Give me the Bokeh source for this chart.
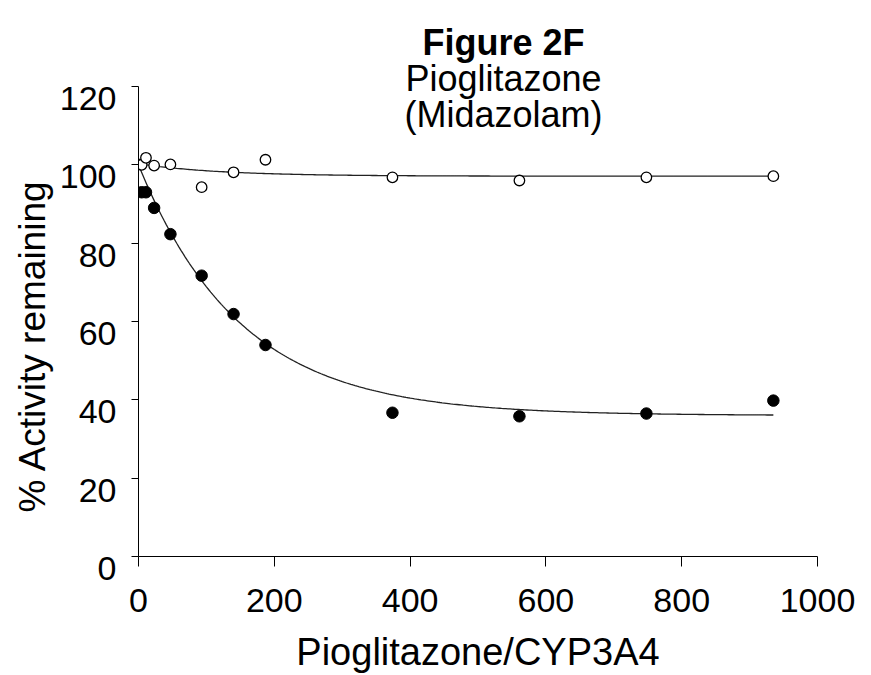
import numpy as np
from bokeh.plotting import figure
from bokeh.models import Range1d, FixedTicker, Title
from bokeh.core.properties import value
from bokeh.embed import file_html
from bokeh.resources import INLINE

# Pioglitazone/CYP3A4 ratio for each incubation
ratio_open = [0, 4.7, 11, 23, 47, 93, 140, 187, 374, 561, 748, 935]
ratio_filled = [4.7, 11, 23, 47, 93, 140, 187, 374, 561, 748, 935]

# % activity remaining: open = control, filled = with pioglitazone pre-incubation
activity_open = [100.1, 100.0, 101.8, 99.8, 100.1, 94.3, 98.1, 101.3, 96.8, 96.0, 96.8, 97.1]
activity_filled = [93.0, 93.0, 89.0, 82.3, 71.7, 61.9, 54.0, 36.7, 35.8, 36.5, 39.8]

# single-exponential fits: plateau + amplitude * exp(-ratio / k)
fit_open = dict(plateau=97.1, amplitude=3.2, k=120.0)
fit_filled = dict(plateau=36.0, amplitude=64.0, k=150.0)
fit_end = 935

x_ticks = [0, 200, 400, 600, 800, 1000]
y_ticks = [0, 20, 40, 60, 80, 100, 120]
title_lines = ["Figure 2F", "Pioglitazone", "(Midazolam)"]

FONT = "Liberation Sans"
W, H = 871, 675
LEFT, RIGHT, BOTTOM = 138, 54, 119
AXIS_TOP_PX = 86          # where the 120 tick sits
Y_MAX = 120

# the frame runs to the top of the canvas so the title block can sit in it;
# the y axis line itself is bounded to 0..120
plot_h = H - BOTTOM
y_end = Y_MAX * plot_h / (plot_h - AXIS_TOP_PX)

p = figure(width=W, height=H, output_backend="svg", toolbar_location=None,
           x_range=Range1d(0, 1000), y_range=Range1d(0, y_end),
           min_border_left=LEFT, min_border_right=RIGHT,
           min_border_top=0, min_border_bottom=BOTTOM)
p.outline_line_color = None
p.grid.visible = False
p.background_fill_color = "white"
p.border_fill_color = "white"

for ax in (p.xaxis[0], p.yaxis[0]):
    ax.axis_line_color = "black"
    ax.axis_line_width = 1
    ax.major_tick_line_color = "black"
    ax.major_tick_in = 0
    ax.minor_tick_line_color = None
    ax.major_label_text_font = FONT
    ax.major_label_text_font_size = "34px"
    ax.major_label_text_color = "black"

p.xaxis.ticker = FixedTicker(ticks=x_ticks)
p.xaxis.major_tick_out = 10
p.xaxis.major_label_standoff = 22
p.xaxis.axis_label = "Pioglitazone/CYP3A4"
p.xaxis.axis_label_text_font = FONT
p.xaxis.axis_label_text_font_size = "38px"
p.xaxis.axis_label_text_font_style = "normal"
p.xaxis.axis_label_text_color = "black"
p.xaxis.axis_label_standoff = 16

p.yaxis.ticker = FixedTicker(ticks=y_ticks)
p.yaxis.bounds = (0, Y_MAX)
p.yaxis.major_tick_out = 7
p.yaxis.major_label_standoff = 15
# tick labels sit a little below their ticks
p.yaxis.major_label_overrides = {t: "\n" + str(t) for t in y_ticks}
p.yaxis.major_label_text_line_height = 0.6

# y axis title, placed from the bottom of the frame upward
ytitle = Title(text="% Activity remaining", align="left", offset=44, standoff=8,
               text_font=FONT, text_font_size="37px", text_font_style="normal",
               text_color="black")
p.add_layout(ytitle, "left")

# fitted curves
xs = np.linspace(0, fit_end, 300)
for fit in (fit_open, fit_filled):
    ys = fit["plateau"] + fit["amplitude"] * np.exp(-xs / fit["k"])
    p.line(xs, ys, line_color="#222222", line_width=1.3)

p.scatter(ratio_open, activity_open, size=10.5, fill_color="white",
          line_color="black", line_width=1.3)
p.scatter(ratio_filled, activity_filled, size=11.5, fill_color="black",
          line_color="black", line_width=1)

# pixel -> data helpers for the title block
def dx(px):
    return (px - LEFT) * 1000 / (W - LEFT - RIGHT)

def dy(py):
    return (plot_h - py) * Y_MAX / (plot_h - AXIS_TOP_PX)

baselines = [42, 78, 114]
styles = ["bold", "normal", "normal"]
for txt, style, base in zip(title_lines, styles, baselines):
    p.text(x=[dx(503)], y=[dy(base)], text=[txt], text_font=value(FONT),
           text_font_size="36px", text_font_style=style, text_align="center",
           text_baseline="alphabetic", text_color="black")

open("out.html", "w").write(file_html(p, INLINE))
